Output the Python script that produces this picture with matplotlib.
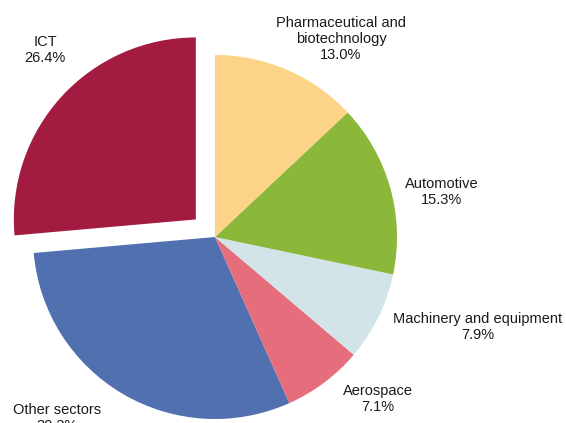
import matplotlib.pyplot as plt

sectors = ["ICT", "Other sectors", "Aerospace", "Machinery and equipment",
           "Automotive", "Pharmaceutical and\nbiotechnology"]
shares = [26.4, 30.3, 7.1, 7.9, 15.3, 13.0]
colors = ["#A31B41", "#5070AF", "#E66D7C", "#D3E4E9", "#8BB73A", "#FDD487"]
explode = [26, 0, 0, 0, 0, 0]

# label anchor points (pixel space of the 566x423 canvas)
label_xy = [(45, 50), (57, 418), (378, 399), (478, 327), (442, 192), (341, 39)]

plt.rcParams['font.family'] = ['Liberation Sans', 'DejaVu Sans']

fig = plt.figure(figsize=(5.66, 4.23), dpi=100)
ax = fig.add_axes([0, 0, 1, 1])

ax.pie(shares, colors=colors, explode=explode, radius=182,
       center=(215, 423 - 237), startangle=90, counterclock=True,
       wedgeprops=dict(linewidth=0), frame=True)
ax.set_xlim(0, 566)
ax.set_ylim(0, 423)
ax.axis('off')

for name, val, (x, y) in zip(sectors, shares, label_xy):
    ax.text(x, 423 - y, f"{name}\n{val:.1f}%", ha='center', va='center',
            fontsize=10.5, linespacing=1.2, color='#1a1a1a')

fig.savefig("out.png", dpi=100)
